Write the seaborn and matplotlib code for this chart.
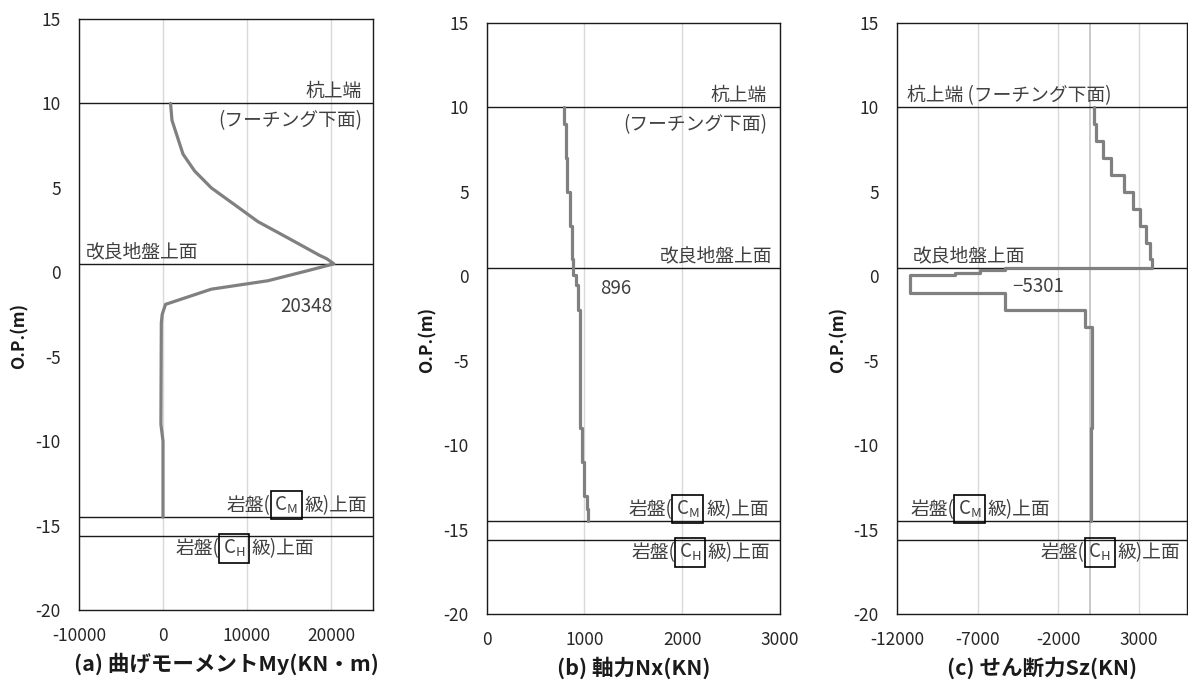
import numpy as np
import pandas as pd
import matplotlib
matplotlib.use('Agg')
import matplotlib.pyplot as plt
import seaborn as sns

# Depth levels (O.P., m)
pile_top = 10.0
improved_top = 0.5
rock_cm_top = -14.5
rock_ch_top = -15.6

# (a) bending moment My (KN·m) along depth
moment_depth = [10, 9, 7, 6, 5, 4, 3, 2, 1, 0.8, 0.5, 0.1, -0.5, -1.0, -1.9, -2.5,
                -3, -9, -10, -14.5]
moment_val = [900, 1070, 2380, 3760, 5750, 8530, 11300, 15000, 18650, 19500, 20348,
              17260, 12500, 5750, 300, -100, -200, -250, 0, 0]

# (b) axial force Nx (KN), stepped profile
axial_depth = [10, 9, 9, 7, 7, 5, 5, 3, 3, 1, 1, 0.1, 0.1, -0.5, -0.5, -2, -2, -9, -9,
               -11, -11, -13, -13, -13.8, -13.8, -14.5]
axial_val = [791, 791, 812, 812, 825, 825, 853, 853, 873, 873, 887, 887, 914, 914, 938,
             938, 955, 955, 979, 979, 996, 996, 1023, 1023, 1040, 1040]

# (c) shear force Sz (KN), stepped profile
shear_depth = [10, 9, 9, 8, 8, 7, 7, 6, 6, 5, 5, 4, 4, 3, 3, 2, 2, 1, 1, 0.5, 0.5,
               0.38, 0.38, 0.22, 0.22, 0.08, 0.08, -1, -1, -2, -2, -3, -3, -9, -9, -14.5]
shear_val = [200, 200, 330, 330, 780, 780, 1300, 1300, 2090, 2090, 2650, 2650, 3060, 3060,
             3430, 3430, 3730, 3730, 3850, 3850, -5300, -5300, -6860, -6860, -8410, -8410,
             -11200, -11200, -5300, -5300, -350, -350, 120, 120, 20, 20]

xlabels = ['(a) 曲げモーメントMy(KN・m)', '(b) 軸力Nx(KN)', '(c) せん断力Sz(KN)']
xlims = [(-10000, 25000), (0, 3000), (-12000, 6000)]
xticks = [[-10000, 0, 10000, 20000], [0, 1000, 2000, 3000], [-12000, -7000, -2000, 3000]]

sns.set_theme(style='white')
plt.rcParams['font.family'] = ['Noto Sans CJK JP', 'DejaVu Sans']
plt.rcParams['axes.unicode_minus'] = False

txt_color = '#404040'
line_color = '#808080'
fs_note = 13.5

fig = plt.figure(figsize=(11.88, 6.8), dpi=100)
positions = [
    [79 / 1188, 70 / 680, 294 / 1188, 591 / 680],
    [486.7 / 1188, 66 / 680, 293.3 / 1188, 591 / 680],
    [897 / 1188, 66 / 680, 290 / 1188, 591 / 680],
]
axes = [fig.add_axes(p) for p in positions]

frames = [
    pd.DataFrame({'value': moment_val, 'depth': moment_depth}),
    pd.DataFrame({'value': axial_val, 'depth': axial_depth}),
    pd.DataFrame({'value': shear_val, 'depth': shear_depth}),
]


def rock_label(ax, x, y, sub, ha='right', below=False):
    """Draw 岩盤(C_x級)上面 with a box round C_x."""
    tr = ax.get_yaxis_transform()
    va = 'top' if below else 'bottom'
    dy = -2 if below else 1
    box = dict(boxstyle='square,pad=0.2', fc='none', ec='black', lw=1.2)
    sym = r'$\mathregular{C_{%s}}$' % sub
    kw = dict(color=txt_color, fontsize=fs_note, textcoords='offset points')
    gap = 0.2 * fs_note
    if ha == 'right':
        t3 = ax.annotate('級)上面', xy=(x, y), xycoords=tr, xytext=(0, dy),
                         ha='right', va=va, **kw)
        t2 = ax.annotate(sym, xy=(0, 0), xycoords=t3, xytext=(-gap - 2, 0),
                         ha='right', va='bottom', bbox=box, **kw)
        ax.annotate('岩盤(', xy=(0, 0), xycoords=t2, xytext=(-gap, 0),
                    ha='right', va='bottom', **kw)
    else:
        t1 = ax.annotate('岩盤(', xy=(x, y), xycoords=tr, xytext=(0, dy),
                         ha='left', va=va, **kw)
        t2 = ax.annotate(sym, xy=(1, 0), xycoords=t1, xytext=(gap, 0),
                         ha='left', va='bottom', bbox=box, **kw)
        ax.annotate('級)上面', xy=(1, 0), xycoords=t2, xytext=(gap + 2, 0),
                    ha='left', va='bottom', **kw)


for i, (ax, df) in enumerate(zip(axes, frames)):
    ax.xaxis.grid(True, color='#d9d9d9', lw=1.0)
    ax.yaxis.grid(False)
    if i == 2:
        ax.axvline(0, color='#c0c0c0', lw=1.2, zorder=1)
    for lev in [pile_top, improved_top, rock_cm_top, rock_ch_top]:
        ax.axhline(lev, color='#1a1a1a', lw=1.0, zorder=2)
    sns.lineplot(data=df, x='value', y='depth', sort=False, estimator=None,
                 color=line_color, lw=2.3, ax=ax, zorder=3)
    ax.set_xlim(*xlims[i])
    ax.set_ylim(-20, 15)
    ax.set_xticks(xticks[i])
    ax.set_yticks(np.arange(-20, 16, 5))
    ax.tick_params(axis='both', length=0, labelsize=12.5, labelcolor='#262626')
    ax.tick_params(axis='x', pad=12)
    ax.tick_params(axis='y', pad=13)
    for s in ax.spines.values():
        s.set_color('#1a1a1a')
        s.set_linewidth(1.0)
    ax.set_xlabel(xlabels[i], fontsize=15.5, fontweight='bold', color='#1a1a1a')
    ax.xaxis.set_label_coords(0.5, -0.072)
    ax.set_ylabel('O.P.(m)', fontsize=12.5, fontweight='bold', color='#1a1a1a')
    ax.yaxis.set_label_coords(-0.172, 0.464)

note = dict(color=txt_color, fontsize=fs_note, textcoords='offset points')

# (a)
ax = axes[0]
tr = ax.get_yaxis_transform()
ax.annotate('杭上端', xy=(0.963, pile_top), xycoords=tr, xytext=(0, 1), ha='right', va='bottom', **note)
ax.annotate('(フーチング下面)', xy=(0.963, pile_top), xycoords=tr, xytext=(0, -5), ha='right', va='top', **note)
ax.annotate('改良地盤上面', xy=(0.024, improved_top), xycoords=tr, xytext=(0, 1), ha='left', va='bottom', **note)
ax.annotate('20348', xy=(0.684, -2.0), xycoords=tr, xytext=(0, 0), ha='left', va='center', **note)
rock_label(ax, 0.98, rock_cm_top, 'M', ha='right')
rock_label(ax, 0.327, rock_ch_top, 'H', ha='left', below=True)

# (b)
ax = axes[1]
tr = ax.get_yaxis_transform()
ax.annotate('杭上端', xy=(0.955, pile_top), xycoords=tr, xytext=(0, 1), ha='right', va='bottom', **note)
ax.annotate('(フーチング下面)', xy=(0.958, pile_top), xycoords=tr, xytext=(0, -5), ha='right', va='top', **note)
ax.annotate('改良地盤上面', xy=(0.972, improved_top), xycoords=tr, xytext=(0, 1), ha='right', va='bottom', **note)
ax.annotate('896', xy=(0.386, -0.7), xycoords=tr, xytext=(0, 0), ha='left', va='center', **note)
rock_label(ax, 0.962, rock_cm_top, 'M', ha='right')
rock_label(ax, 0.968, rock_ch_top, 'H', ha='right', below=True)

# (c)
ax = axes[2]
tr = ax.get_yaxis_transform()
ax.annotate('杭上端 (フーチング下面)', xy=(0.033, pile_top), xycoords=tr, xytext=(0, 1), ha='left', va='bottom', **note)
ax.annotate('改良地盤上面', xy=(0.055, improved_top), xycoords=tr, xytext=(0, 1), ha='left', va='bottom', **note)
ax.annotate('−5301', xy=(0.397, -0.6), xycoords=tr, xytext=(0, 0), ha='left', va='center', **note)
rock_label(ax, 0.045, rock_cm_top, 'M', ha='left')
rock_label(ax, 0.976, rock_ch_top, 'H', ha='right', below=True)

fig.savefig('out.png', dpi=100)
